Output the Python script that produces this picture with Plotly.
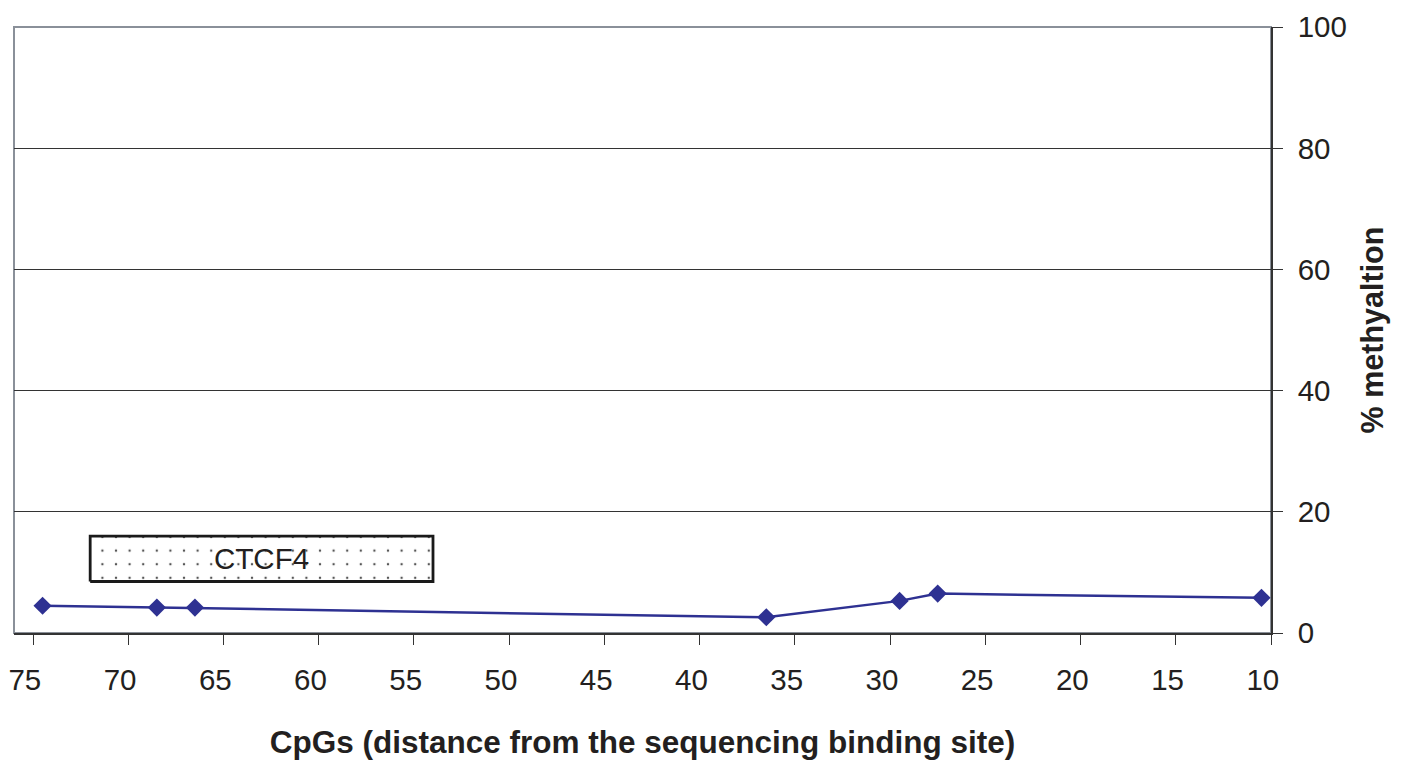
import plotly.graph_objects as go

# Data
cpg_distance = [74.5, 68.5, 66.5, 36.5, 29.5, 27.5, 10.5]
methylation = [4.5, 4.2, 4.2, 2.6, 5.3, 6.5, 5.8]

x_ticks = [75, 70, 65, 60, 55, 50, 45, 40, 35, 30, 25, 20, 15, 10]
y_ticks = [0, 20, 40, 60, 80, 100]

ctcf_label = "CTCF4"
ctcf_x = [72, 54]
ctcf_y = [8.5, 16]

TXT = "#231F20"
FONT = "Liberation Sans, Arial, sans-serif"
NB = "\u00a0\u00a0"

fig = go.Figure()

# CTCF4 box with dotted fill
fig.add_trace(go.Scatter(
    x=[ctcf_x[0], ctcf_x[1], ctcf_x[1], ctcf_x[0], ctcf_x[0]],
    y=[ctcf_y[0], ctcf_y[0], ctcf_y[1], ctcf_y[1], ctcf_y[0]],
    mode="lines", fill="toself",
    fillcolor="white",
    fillpattern=dict(shape=".", size=13.6, solidity=0.025,
                     fgcolor="#555555", bgcolor="white", fillmode="replace"),
    line=dict(color="#1a1a1a", width=2.8),
    hoverinfo="skip", showlegend=False,
))

fig.add_trace(go.Scatter(
    x=cpg_distance, y=methylation,
    mode="lines+markers",
    line=dict(color="#2E3192", width=2.5),
    marker=dict(symbol="diamond", size=14, color="#2E3192"),
    showlegend=False,
))

fig.add_annotation(
    x=(ctcf_x[0] + ctcf_x[1]) / 2, y=(ctcf_y[0] + ctcf_y[1]) / 2,
    text=ctcf_label, showarrow=False,
    font=dict(family=FONT, size=29.5, color=TXT),
)

# plot-area border (grey) on top/left
fig.add_shape(type="rect", xref="paper", yref="paper", x0=0, y0=0, x1=1, y1=1,
              line=dict(color="#8a9099", width=2), layer="below")

fig.update_layout(
    width=1392, height=752,
    margin=dict(l=6, r=129, t=19, b=127, autoexpand=False),
    paper_bgcolor="white", plot_bgcolor="white",
    font=dict(family=FONT, color=TXT, size=29.5),
    xaxis=dict(
        range=[76, 10], tickvals=x_ticks, ticktext=[str(v) + NB for v in x_ticks],
        automargin=False,
        showgrid=False, zeroline=False,
        showline=True, linecolor="#333333", linewidth=1.5,
        ticks="outside", ticklen=10, tickcolor="#333333", tickwidth=1.2,
        tickfont=dict(size=29.5, color=TXT), ticklabelstandoff=10,
        title=dict(text="<b>CpGs (distance from the sequencing binding site)</b>",
                   font=dict(size=31.5, color=TXT), standoff=43),
    ),
    yaxis=dict(
        range=[0, 100], tickvals=y_ticks, side="right",
        automargin=False,
        showgrid=True, gridcolor="#333333", gridwidth=1,
        zeroline=False,
        showline=True, linecolor="#333333", linewidth=1.5,
        ticks="outside", ticklen=10, tickcolor="#333333", tickwidth=1.2,
        tickfont=dict(size=29.5, color=TXT), ticklabelstandoff=9,
        title=dict(text="<b>% methyaltion</b>", font=dict(size=30.5, color=TXT), standoff=16),
    ),
)

fig.write_html("out.html")
